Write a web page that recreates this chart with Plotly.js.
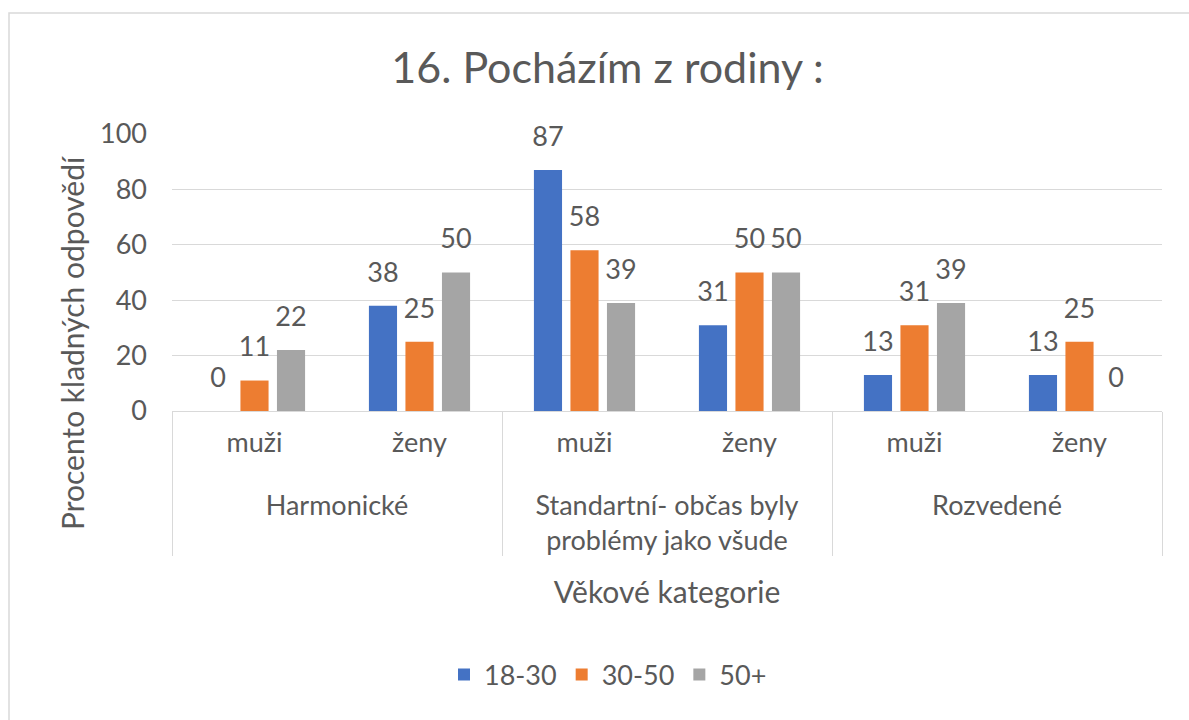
<!DOCTYPE html>
<html>
<head>
<meta charset="utf-8">
<script src="https://cdn.plot.ly/plotly-3.0.1.min.js"></script>
<style>html,body{margin:0;padding:0;background:#fff;}#chart{width:1189px;height:720px;}</style>
</head>
<body>
<div id="chart"></div>
<script>
const groups = ["<br>Harmonické", "<br>Harmonické", "<br>Standartní- občas byly<br>problémy jako všude", "<br>Standartní- občas byly<br>problémy jako všude", "<br>Rozvedené", "<br>Rozvedené"];
const subgroups = ["muži", "ženy", "muži", "ženy", "muži", "ženy"];
const seriesNames = ["18-30", "30-50", "50+"];
const values1830 = [0, 38, 87, 31, 13, 13];
const values3050 = [11, 25, 58, 50, 31, 25];
const values50 = [22, 50, 39, 50, 39, 0];
const colors = ["#4472C4", "#ED7D31", "#A5A5A5"];
const FONT = "Lato, 'Open Sans', sans-serif";
const TXT = "#595959";
const FS = 27;

const allVals = [values1830, values3050, values50];
const traces = allVals.map((v, i) => ({
  type: "bar",
  name: seriesNames[i],
  x: [groups, subgroups],
  y: v,
  marker: {color: colors[i]},
  text: v.map(String),
  texttemplate: "<span style='font-size:" + FS + "px'>%{text}</span><br>\u00a0",
  textposition: "outside",
  constraintext: "none",
  cliponaxis: false,
  textfont: {family: FONT, size: 14, color: TXT},
  hoverinfo: "y"
}));

const W = 1189, H = 720, L = 172, R = 27, T = 134, B = 309;
const pw = W - L - R, ph = H - T - B;
const px = (p) => (p - L) / pw;
const py = (p) => (H - B - p) / ph;

const layout = {
  width: W, height: H,
  margin: {l: L, r: R, t: T, b: B},
  paper_bgcolor: "#fff",
  plot_bgcolor: "#fff",
  font: {family: FONT, color: TXT, size: FS},
  title: {text: "16. Pocházím z rodiny :", font: {family: FONT, size: 43, color: TXT}, x: 0.511, xanchor: "center", y: 0.905, yanchor: "middle"},
  barmode: "group",
  bargap: 0.336,
  bargroupgap: 0.23,
  showlegend: true,
  legend: {orientation: "h", x: 0.5 - 59 / pw, xanchor: "center", y: py(675), yanchor: "middle", font: {family: FONT, size: FS, color: TXT}, itemwidth: 30},
  xaxis: {
    type: "multicategory",
    showline: true, linecolor: "#D9D9D9", linewidth: 1,
    showdividers: true, dividercolor: "#D9D9D9", dividerwidth: 1,
    tickfont: {family: FONT, size: FS, color: TXT},
    ticks: "",
    ticklabelstandoff: 8,
    title: {text: "Věkové kategorie", font: {family: FONT, size: 30, color: TXT}, standoff: 27}
  },
  yaxis: {
    range: [0, 100], dtick: 20,
    showgrid: true, gridcolor: "#D9D9D9", gridwidth: 1,
    zeroline: false, showline: false,
    tickfont: {family: FONT, size: FS, color: TXT},
    ticklabelstandoff: 24
  },
  annotations: [{
    text: "Procento kladných odpovědí", textangle: -90,
    xref: "paper", yref: "paper", x: px(72), y: py(343),
    xanchor: "center", yanchor: "middle", showarrow: false,
    font: {family: FONT, size: 30, color: TXT}
  }],
  shapes: [{
    type: "rect", xref: "paper", yref: "paper",
    x0: px(9), x1: px(1200), y0: py(730), y1: py(13),
    line: {color: "#D9D9D9", width: 1.5}, fillcolor: "rgba(0,0,0,0)", layer: "below"
  }]
};

Plotly.newPlot("chart", traces, layout, {displayModeBar: false, responsive: false});
</script>
</body>
</html>
